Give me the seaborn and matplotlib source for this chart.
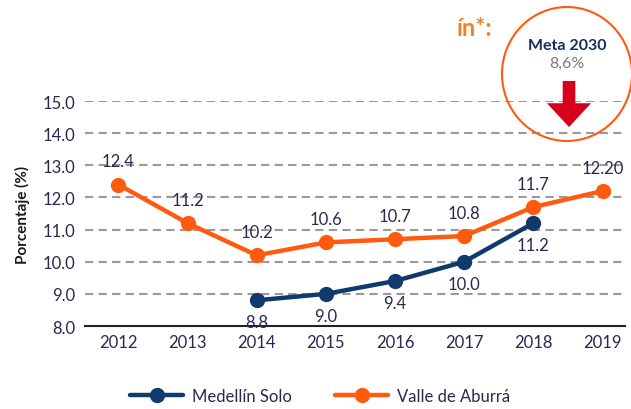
import pandas as pd
import matplotlib.pyplot as plt
import matplotlib.patches as mpatches
import seaborn as sns

# =========================================================
# DATA
# =========================================================
years_valle = [2012, 2013, 2014, 2015, 2016, 2017, 2018, 2019]
valle = [12.4, 11.2, 10.2, 10.6, 10.7, 10.8, 11.7, 12.2]
valle_labels = ["12.4", "11.2", "10.2", "10.6", "10.7", "10.8", "11.7", "12.20"]

years_med = [2014, 2015, 2016, 2017, 2018]
medellin = [8.8, 9.0, 9.4, 10.0, 11.2]
med_labels = ["8.8", "9.0", "9.4", "10.0", "11.2"]

y_ticks = [8.0, 9.0, 10.0, 11.0, 12.0, 13.0, 14.0, 15.0]

NAVY = "#0F3A6B"
ORANGE = "#FF5A0D"
TEXT = "#2A2850"

df = pd.concat([
    pd.DataFrame({"year": years_med, "value": medellin, "serie": "Medellín Solo"}),
    pd.DataFrame({"year": years_valle, "value": valle, "serie": "Valle de Aburrá"}),
])

sns.set_style("white")
plt.rcParams["font.family"] = ["Lato", "DejaVu Sans"]

fig = plt.figure(figsize=(6.31, 4.10), dpi=100)
ax = fig.add_axes([0.135, 0.2024, 0.855, 0.5488])

sns.lineplot(data=df, x="year", y="value", hue="serie",
             palette={"Medellín Solo": NAVY, "Valle de Aburrá": ORANGE},
             marker="o", markersize=11, markeredgewidth=0, linewidth=3.2,
             ax=ax, clip_on=False, zorder=3)

for x, y, t in zip(years_valle, valle, valle_labels):
    ax.annotate(t, (x, y), xytext=(0, 11), textcoords="offset points",
                ha="center", va="bottom", fontsize=12, color=TEXT)
for x, y, t in zip(years_med, medellin, med_labels):
    ax.annotate(t, (x, y), xytext=(0, -10), textcoords="offset points",
                ha="center", va="top", fontsize=12, color=TEXT)

ax.set_xlim(2011.52, 2019.32)
ax.set_ylim(8, 15)
ax.set_yticks(y_ticks)
ax.set_yticklabels([f"{v:.1f}" for v in y_ticks])
ax.set_xticks(years_valle)
ax.tick_params(axis="both", length=0, labelsize=12, labelcolor=TEXT, pad=6)
ax.tick_params(axis="y", pad=7)
for v in y_ticks[1:]:
    ax.axhline(v, color="#9A9A9A", lw=1.5, ls=(0, (4, 2.5)), zorder=1)
for s in ["top", "right", "left"]:
    ax.spines[s].set_visible(False)
ax.spines["bottom"].set_color("#222222")
ax.spines["bottom"].set_linewidth(1.5)
ax.set_xlabel("")
ax.set_ylabel("Porcentaje (%)", fontsize=11, fontweight="bold", color="#1a1a1a", labelpad=9)

leg = ax.legend(loc="center", bbox_to_anchor=(0.435, -0.31), ncol=2,
                frameon=False, fontsize=12, handlelength=3.2, columnspacing=2.6,
                handletextpad=0.5)
for txt in leg.get_texts():
    txt.set_color(TEXT)

# meta circle
circ = mpatches.Ellipse((567 / 631, 1 - 75 / 410), 130 / 631, 134 / 410,
                        transform=fig.transFigure, fill=False,
                        edgecolor=ORANGE, lw=1.5)
fig.patches.append(circ)
fig.text(567 / 631, 1 - 46 / 410, "Meta 2030", ha="center", va="center",
         fontsize=11.5, fontweight="bold", color="#13305E")
fig.text(567 / 631, 1 - 64 / 410, "8,6%", ha="center", va="center",
         fontsize=11.5, color="#7A7A7A")
arrow = mpatches.FancyArrow(569 / 631, 1 - 82 / 410, 0, -46 / 410,
                            width=0.02, head_width=0.07, head_length=0.058,
                            length_includes_head=True, transform=fig.transFigure,
                            color="#D7001A", lw=0)
fig.patches.append(arrow)
fig.text(474 / 631, 1 - 28 / 410, "ín*:", ha="center", va="center",
         fontsize=17, fontweight="bold", color="#F7801E")

plt.savefig("out.png", dpi=100)
plt.close()
